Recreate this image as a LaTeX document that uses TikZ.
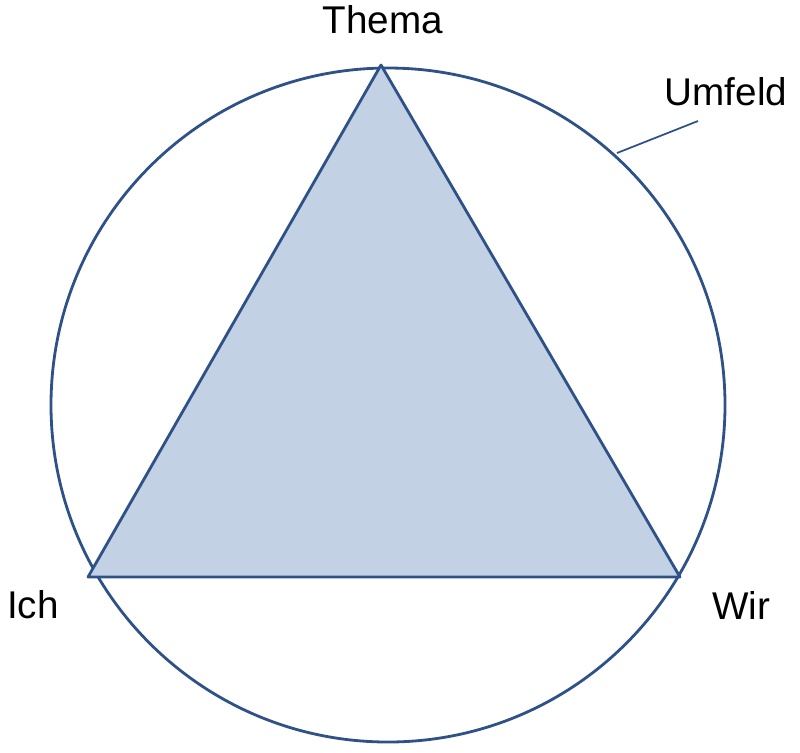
\documentclass[tikz,border=0pt]{standalone}
\usepackage{fontspec}
\setmainfont{Liberation Sans}
\definecolor{edge}{HTML}{2E5288}
\definecolor{fillb}{HTML}{C2D1E4}
\begin{document}
\begin{tikzpicture}[x=0.02cm,y=-0.02cm,
  lbl/.style={font=\fontsize{22}{26}\selectfont,inner sep=0pt},
  ln/.style={draw=edge,line width=1.6pt}]
\useasboundingbox (0,0) rectangle (800,752);
\draw[ln] (388,405) circle (337);
\coordinate (T) at (381,65);
\coordinate (L) at (88,577);
\coordinate (R) at (680,577);
\filldraw[ln,fill=fillb,line join=round] (T) -- (L) -- (R) -- cycle;
\node[lbl] (thema) at (383,20) {Thema};
\node[lbl] (umfeld) at (726,92) {Umfeld};
\node[lbl] (ich) at (33,605) {Ich};
\node[lbl] (wir) at (741,605) {Wir};
\coordinate (c1) at (617,153);
\coordinate (c2) at (698,121);
\draw[draw=edge,line width=1pt] (c1) -- (c2);
\end{tikzpicture}
\end{document}
